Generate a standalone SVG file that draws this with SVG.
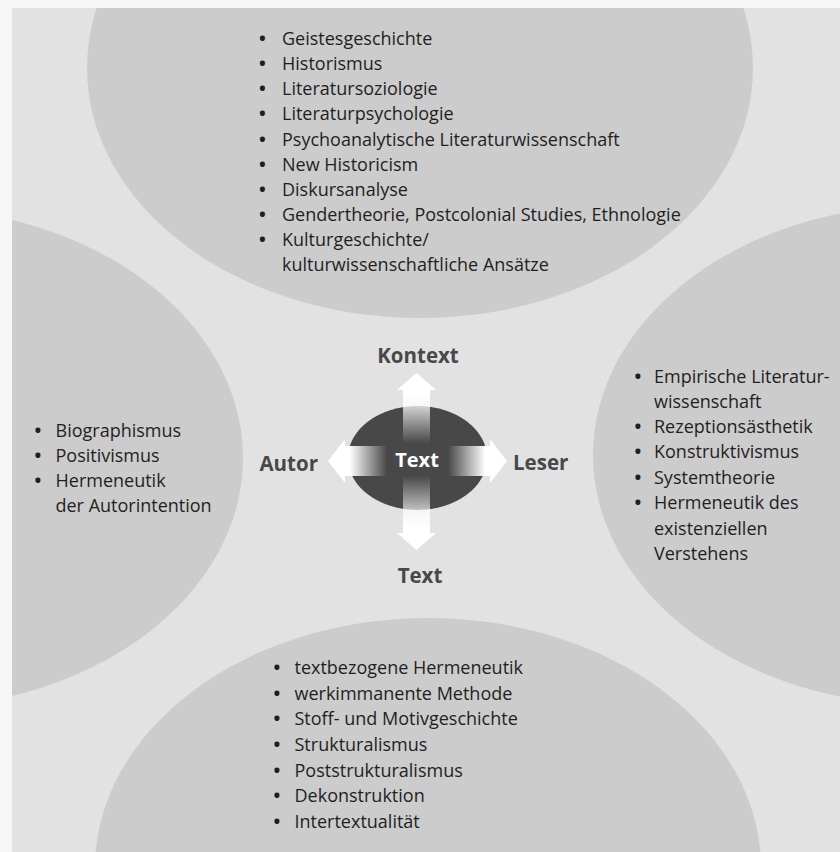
<svg xmlns="http://www.w3.org/2000/svg" width="840" height="852" viewBox="0 0 840 852">
  <defs>
    <style>
      .bg { fill: #e2e2e2; }
      .blob { fill: #cccccc; }
      .item { font-family: "Open Sans", "Noto Sans", "Liberation Sans", sans-serif; font-size: 18px; fill: #1f1f1f; }
      .b { font-weight: bold; text-anchor: middle; }
      .lbl { font-family: "Open Sans", "Noto Sans", "Liberation Sans", sans-serif; font-size: 20.5px; font-weight: bold; fill: #484848; }
      .core { fill: #484848; }
      .coretxt { font-family: "Open Sans", "Noto Sans", "Liberation Sans", sans-serif; font-size: 20px; font-weight: bold; fill: #ffffff; text-anchor: middle; }
    </style>
    <clipPath id="page"><rect x="12" y="8" width="828" height="844"/></clipPath>
    <linearGradient id="gUp" x1="0" y1="0" x2="0" y2="1">
      <stop offset="0" stop-color="#ffffff" stop-opacity="1"/>
      <stop offset="0.28" stop-color="#ffffff" stop-opacity="1"/>
      <stop offset="0.95" stop-color="#ffffff" stop-opacity="0"/>
    </linearGradient>
    <linearGradient id="gDown" x1="0" y1="1" x2="0" y2="0">
      <stop offset="0" stop-color="#ffffff" stop-opacity="1"/>
      <stop offset="0.28" stop-color="#ffffff" stop-opacity="1"/>
      <stop offset="0.95" stop-color="#ffffff" stop-opacity="0"/>
    </linearGradient>
    <linearGradient id="gLeft" x1="0" y1="0" x2="1" y2="0">
      <stop offset="0" stop-color="#ffffff" stop-opacity="1"/>
      <stop offset="0.35" stop-color="#ffffff" stop-opacity="1"/>
      <stop offset="0.95" stop-color="#ffffff" stop-opacity="0"/>
    </linearGradient>
    <linearGradient id="gRight" x1="1" y1="0" x2="0" y2="0">
      <stop offset="0" stop-color="#ffffff" stop-opacity="1"/>
      <stop offset="0.35" stop-color="#ffffff" stop-opacity="1"/>
      <stop offset="0.95" stop-color="#ffffff" stop-opacity="0"/>
    </linearGradient>
  </defs>

  <rect x="0" y="0" width="840" height="852" fill="#f6f6f6"/>
  <rect class="bg" x="12" y="8" width="828" height="844"/>

  <g id="kontext-node" clip-path="url(#page)">
    <ellipse class="blob" cx="420" cy="68" rx="333" ry="250"/>
    <text class="item">
      <tspan class="b" x="262.5" y="45">•</tspan><tspan x="282" y="45">Geistesgeschichte</tspan>
      <tspan class="b" x="262.5" y="70">•</tspan><tspan x="282" y="70">Historismus</tspan>
      <tspan class="b" x="262.5" y="95">•</tspan><tspan x="282" y="95">Literatursoziologie</tspan>
      <tspan class="b" x="262.5" y="120">•</tspan><tspan x="282" y="120">Literaturpsychologie</tspan>
      <tspan class="b" x="262.5" y="145.5">•</tspan><tspan x="282" y="145.5">Psychoanalytische Literaturwissenschaft</tspan>
      <tspan class="b" x="262.5" y="170.5">•</tspan><tspan x="282" y="170.5">New Historicism</tspan>
      <tspan class="b" x="262.5" y="195.5">•</tspan><tspan x="282" y="195.5">Diskursanalyse</tspan>
      <tspan class="b" x="262.5" y="220.5">•</tspan><tspan x="282" y="220.5">Gendertheorie, Postcolonial Studies, Ethnologie</tspan>
      <tspan class="b" x="262.5" y="246">•</tspan><tspan x="282" y="246">Kulturgeschichte/</tspan>
      <tspan x="282" y="271">kulturwissenschaftliche Ansätze</tspan>
    </text>
  </g>

  <g id="autor-node" clip-path="url(#page)">
    <ellipse class="blob" cx="-90" cy="458" rx="333" ry="250"/>
    <text class="item">
      <tspan class="b" x="38" y="437">•</tspan><tspan x="55.5" y="437">Biographismus</tspan>
      <tspan class="b" x="38" y="462">•</tspan><tspan x="55.5" y="462">Positivismus</tspan>
      <tspan class="b" x="38" y="487">•</tspan><tspan x="55.5" y="487">Hermeneutik</tspan>
      <tspan x="55.5" y="512">der Autorintention</tspan>
    </text>
  </g>

  <g id="leser-node" clip-path="url(#page)">
    <ellipse class="blob" cx="926" cy="455" rx="333" ry="250"/>
    <text class="item">
      <tspan class="b" x="638" y="382.5">•</tspan><tspan x="654" y="382.5">Empirische Literatur-</tspan>
      <tspan x="654" y="407.5">wissenschaft</tspan>
      <tspan class="b" x="638" y="433">•</tspan><tspan x="654" y="433">Rezeptionsästhetik</tspan>
      <tspan class="b" x="638" y="458">•</tspan><tspan x="654" y="458">Konstruktivismus</tspan>
      <tspan class="b" x="638" y="483.5">•</tspan><tspan x="654" y="483.5">Systemtheorie</tspan>
      <tspan class="b" x="638" y="509">•</tspan><tspan x="654" y="509">Hermeneutik des</tspan>
      <tspan x="654" y="534.5">existenziellen</tspan>
      <tspan x="654" y="560">Verstehens</tspan>
    </text>
  </g>

  <g id="text-node" clip-path="url(#page)">
    <ellipse class="blob" cx="428" cy="868" rx="333" ry="250"/>
    <text class="item">
      <tspan class="b" x="277" y="674">•</tspan><tspan x="294.5" y="674">textbezogene Hermeneutik</tspan>
      <tspan class="b" x="277" y="699.5">•</tspan><tspan x="294.5" y="699.5">werkimmanente Methode</tspan>
      <tspan class="b" x="277" y="725">•</tspan><tspan x="294.5" y="725">Stoff- und Motivgeschichte</tspan>
      <tspan class="b" x="277" y="751">•</tspan><tspan x="294.5" y="751">Strukturalismus</tspan>
      <tspan class="b" x="277" y="776.5">•</tspan><tspan x="294.5" y="776.5">Poststrukturalismus</tspan>
      <tspan class="b" x="277" y="802">•</tspan><tspan x="294.5" y="802">Dekonstruktion</tspan>
      <tspan class="b" x="277" y="828">•</tspan><tspan x="294.5" y="828">Intertextualität</tspan>
    </text>
  </g>

  <g id="center-node">
    <ellipse class="core" cx="417.5" cy="458" rx="69.5" ry="52"/>
  </g>

  <g id="connectors">
    <polygon fill="url(#gUp)" points="403,447 403,390 397,390 416.5,373 436,390 430,390 430,447"/>
    <polygon fill="url(#gDown)" points="403,472 403,533 397,533 416.5,550 436,533 430,533 430,472"/>
    <polygon fill="url(#gLeft)" points="390,446 345,446 345,439 328,461 345,483 345,476 390,476"/>
    <polygon fill="url(#gRight)" points="445,446 490,446 490,439 507,461 490,483 490,476 445,476"/>
  </g>

  <g id="labels">
    <text class="coretxt" x="417" y="467">Text</text>
    <text class="lbl" x="418" y="363" text-anchor="middle">Kontext</text>
    <text class="lbl" x="318" y="471" text-anchor="end">Autor</text>
    <text class="lbl" x="513" y="470">Leser</text>
    <text class="lbl" x="420" y="583" text-anchor="middle">Text</text>
  </g>
</svg>
